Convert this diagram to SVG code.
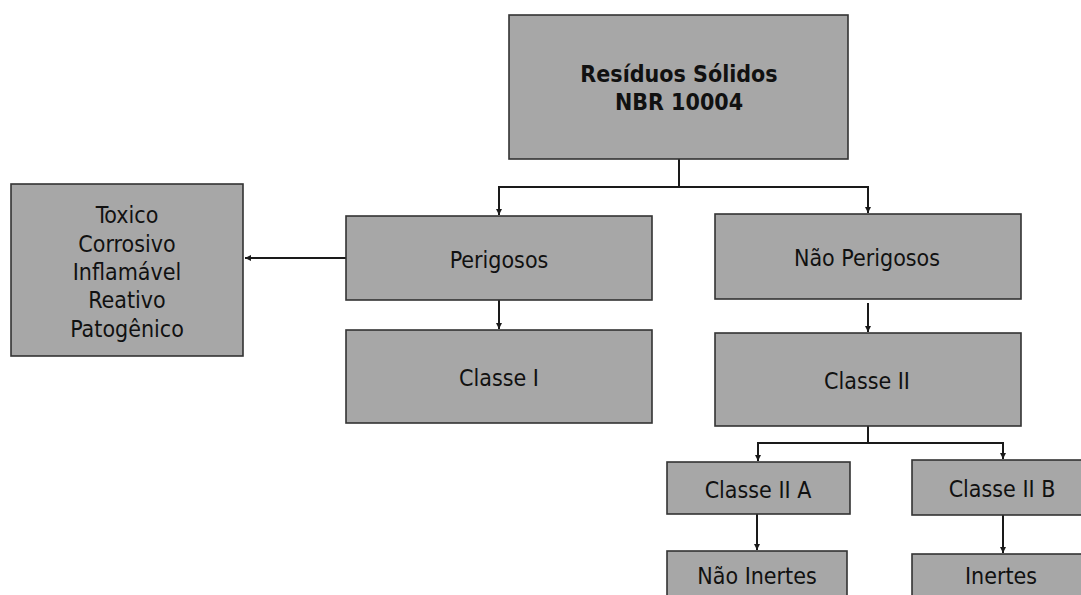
<svg xmlns="http://www.w3.org/2000/svg" width="1081" height="595" viewBox="0 0 1081 595">
<defs>
<style>
.box{fill:#a7a7a7;stroke:#333;stroke-width:1.6}
.t{font-family:"DejaVu Sans Condensed","DejaVu Sans",Tahoma,sans-serif;font-size:23px;fill:#111;text-anchor:middle}
.b{font-weight:bold;font-size:23px}
.c{fill:none;stroke:#1a1a1a;stroke-width:2}
</style>
<marker id="ah" viewBox="0 0 10 10" refX="10" refY="5" markerWidth="6" markerHeight="6" markerUnits="userSpaceOnUse" orient="auto">
<path d="M0,0 L10,5 L0,10 z" fill="#1a1a1a"/>
</marker>
</defs>
<rect width="1081" height="595" fill="#fff"/>
<g id="connectors">
<path class="c" d="M679,159 V187 H499 V215" marker-end="url(#ah)"/>
<path class="c" d="M679,187 H868 V213" marker-end="url(#ah)"/>
<path class="c" d="M346,258 H245" marker-end="url(#ah)"/>
<path class="c" d="M499,300 V329" marker-end="url(#ah)"/>
<path class="c" d="M868,303 V332" marker-end="url(#ah)"/>
<path class="c" d="M868,426 V443 H758 V461" marker-end="url(#ah)"/>
<path class="c" d="M868,443 H1003 V459" marker-end="url(#ah)"/>
<path class="c" d="M757,514 V550" marker-end="url(#ah)"/>
<path class="c" d="M1003,515 V553" marker-end="url(#ah)"/>
</g>
<g id="residuos">
<rect class="box" x="509" y="15" width="339" height="144"/>
<text class="t b" x="679" y="82">Resíduos Sólidos</text>
<text class="t b" x="679" y="110">NBR 10004</text>
</g>
<g id="toxico">
<rect class="box" x="11" y="184" width="232" height="172"/>
<text class="t" x="127" y="223">Toxico</text>
<text class="t" x="127" y="252">Corrosivo</text>
<text class="t" x="127" y="280">Inflamável</text>
<text class="t" x="127" y="308">Reativo</text>
<text class="t" x="127" y="337">Patogênico</text>
</g>
<g id="perigosos">
<rect class="box" x="346" y="216" width="306" height="84"/>
<text class="t" x="499" y="268">Perigosos</text>
</g>
<g id="classe1">
<rect class="box" x="346" y="330" width="306" height="93"/>
<text class="t" x="499" y="386">Classe I</text>
</g>
<g id="naoperigosos">
<rect class="box" x="715" y="214" width="306" height="85"/>
<text class="t" x="867" y="266">Não Perigosos</text>
</g>
<g id="classe2">
<rect class="box" x="715" y="333" width="306" height="93"/>
<text class="t" x="867" y="389">Classe II</text>
</g>
<g id="classe2a">
<rect class="box" x="667" y="462" width="183" height="52"/>
<text class="t" x="758" y="498">Classe II A</text>
</g>
<g id="classe2b">
<rect class="box" x="912" y="460" width="180" height="55"/>
<text class="t" x="1002" y="497">Classe II B</text>
</g>
<g id="naoinertes">
<rect class="box" x="667" y="551" width="180" height="60"/>
<text class="t" x="757" y="584">Não Inertes</text>
</g>
<g id="inertes">
<rect class="box" x="912" y="554" width="180" height="60"/>
<text class="t" x="1001" y="584">Inertes</text>
</g>
</svg>
